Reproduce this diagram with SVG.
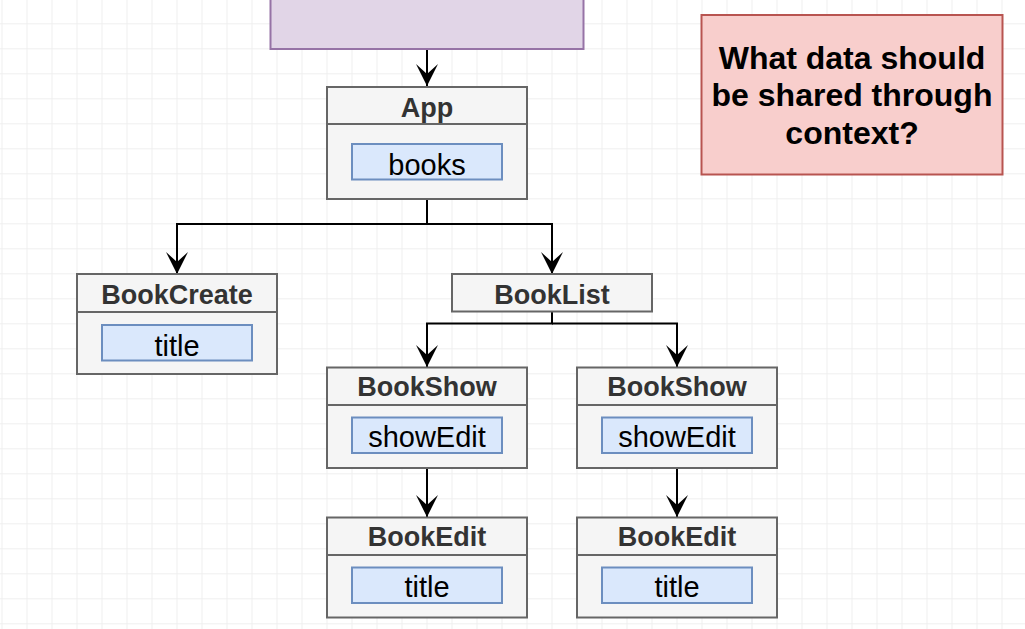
<svg xmlns="http://www.w3.org/2000/svg" width="1025" height="629" viewBox="0 0 1025 629">
  <style>
    .node { fill: #f5f5f5; stroke: #666666; stroke-width: 2; }
    .div { stroke: #666666; stroke-width: 2; fill: none; }
    .prop { fill: #dae8fc; stroke: #6c8ebf; stroke-width: 2; }
    .hdr { font-family: "Liberation Sans", Arial, Helvetica, sans-serif; font-weight: bold; font-size: 27px; fill: #333333; text-anchor: middle; }
    .val { font-family: "Liberation Sans", Arial, Helvetica, sans-serif; font-size: 29px; fill: #000000; text-anchor: middle; }
    .note { font-family: "Liberation Sans", Arial, Helvetica, sans-serif; font-weight: bold; font-size: 32px; fill: #000000; text-anchor: middle; }
    .edge { fill: none; stroke: #000000; stroke-width: 2; }
  </style>
  <defs>
    <pattern id="grid" width="25" height="25" patternUnits="userSpaceOnUse" x="1.5" y="23.3">
      <path d="M0,0.5 H25 M0.5,0 V25" fill="none" stroke="#efefef" stroke-width="1"/>
    </pattern>
    <marker id="arr" viewBox="-22 -11 22 22" refX="0" refY="0" markerWidth="22" markerHeight="22" markerUnits="userSpaceOnUse" orient="auto">
      <path d="M0,0 L-22,-11 L-12,0 L-22,11 Z" fill="#000000"/>
    </marker>
  </defs>
  <rect x="0" y="0" width="1025" height="629" fill="#ffffff"/>
  <rect x="0" y="0" width="1025" height="629" fill="url(#grid)"/>

  <g id="connectors">
    <path class="edge" d="M427,49 V86" marker-end="url(#arr)"/>
    <path class="edge" d="M427,199 V224 H177 V274" marker-end="url(#arr)"/>
    <path class="edge" d="M427,224 H552 V274" marker-end="url(#arr)"/>
    <path class="edge" d="M552,311 V323.5 H427 V367" marker-end="url(#arr)"/>
    <path class="edge" d="M552,323.5 H677 V367" marker-end="url(#arr)"/>
    <path class="edge" d="M427,468 V517" marker-end="url(#arr)"/>
    <path class="edge" d="M677,468 V517" marker-end="url(#arr)"/>
  </g>

  <g id="parent">
    <rect x="270.5" y="-10" width="313" height="59" fill="#e1d5e7" stroke="#9673a6" stroke-width="2"/>
  </g>

  <g id="note">
    <rect x="701.5" y="15" width="301" height="159.5" fill="#f8cecc" stroke="#b85450" stroke-width="2"/>
    <text class="note" x="852" y="68.5">What data should</text>
    <text class="note" x="852" y="106">be shared through</text>
    <text class="note" x="852" y="144">context?</text>
  </g>

  <g id="app">
    <rect class="node" x="327" y="87" width="200" height="112"/>
    <path class="div" d="M327,124 H527"/>
    <text class="hdr" x="427" y="116.5">App</text>
    <rect class="prop" x="352" y="144" width="150" height="35.5"/>
    <text class="val" x="427" y="175">books</text>
  </g>

  <g id="bookcreate">
    <rect class="node" x="77" y="274" width="200" height="100"/>
    <path class="div" d="M77,312 H277"/>
    <text class="hdr" x="177" y="303.5">BookCreate</text>
    <rect class="prop" x="102" y="325" width="150" height="35.5"/>
    <text class="val" x="177" y="355.5">title</text>
  </g>

  <g id="booklist">
    <rect class="node" x="452" y="274" width="200" height="37.5"/>
    <text class="hdr" x="552" y="303.5">BookList</text>
  </g>

  <g id="bookshow1">
    <rect class="node" x="327" y="367.5" width="200" height="100.5"/>
    <path class="div" d="M327,405 H527"/>
    <text class="hdr" x="427" y="396">BookShow</text>
    <rect class="prop" x="352" y="417.5" width="150" height="35.5"/>
    <text class="val" x="427" y="446.5">showEdit</text>
  </g>

  <g id="bookshow2">
    <rect class="node" x="577" y="367.5" width="200" height="100.5"/>
    <path class="div" d="M577,405 H777"/>
    <text class="hdr" x="677" y="396">BookShow</text>
    <rect class="prop" x="602" y="417.5" width="150" height="35.5"/>
    <text class="val" x="677" y="446.5">showEdit</text>
  </g>

  <g id="bookedit1">
    <rect class="node" x="327" y="517.5" width="200" height="100"/>
    <path class="div" d="M327,555 H527"/>
    <text class="hdr" x="427" y="546">BookEdit</text>
    <rect class="prop" x="352" y="567.5" width="150" height="35.5"/>
    <text class="val" x="427" y="596.5">title</text>
  </g>

  <g id="bookedit2">
    <rect class="node" x="577" y="517.5" width="200" height="100"/>
    <path class="div" d="M577,555 H777"/>
    <text class="hdr" x="677" y="546">BookEdit</text>
    <rect class="prop" x="602" y="567.5" width="150" height="35.5"/>
    <text class="val" x="677" y="596.5">title</text>
  </g>
</svg>
